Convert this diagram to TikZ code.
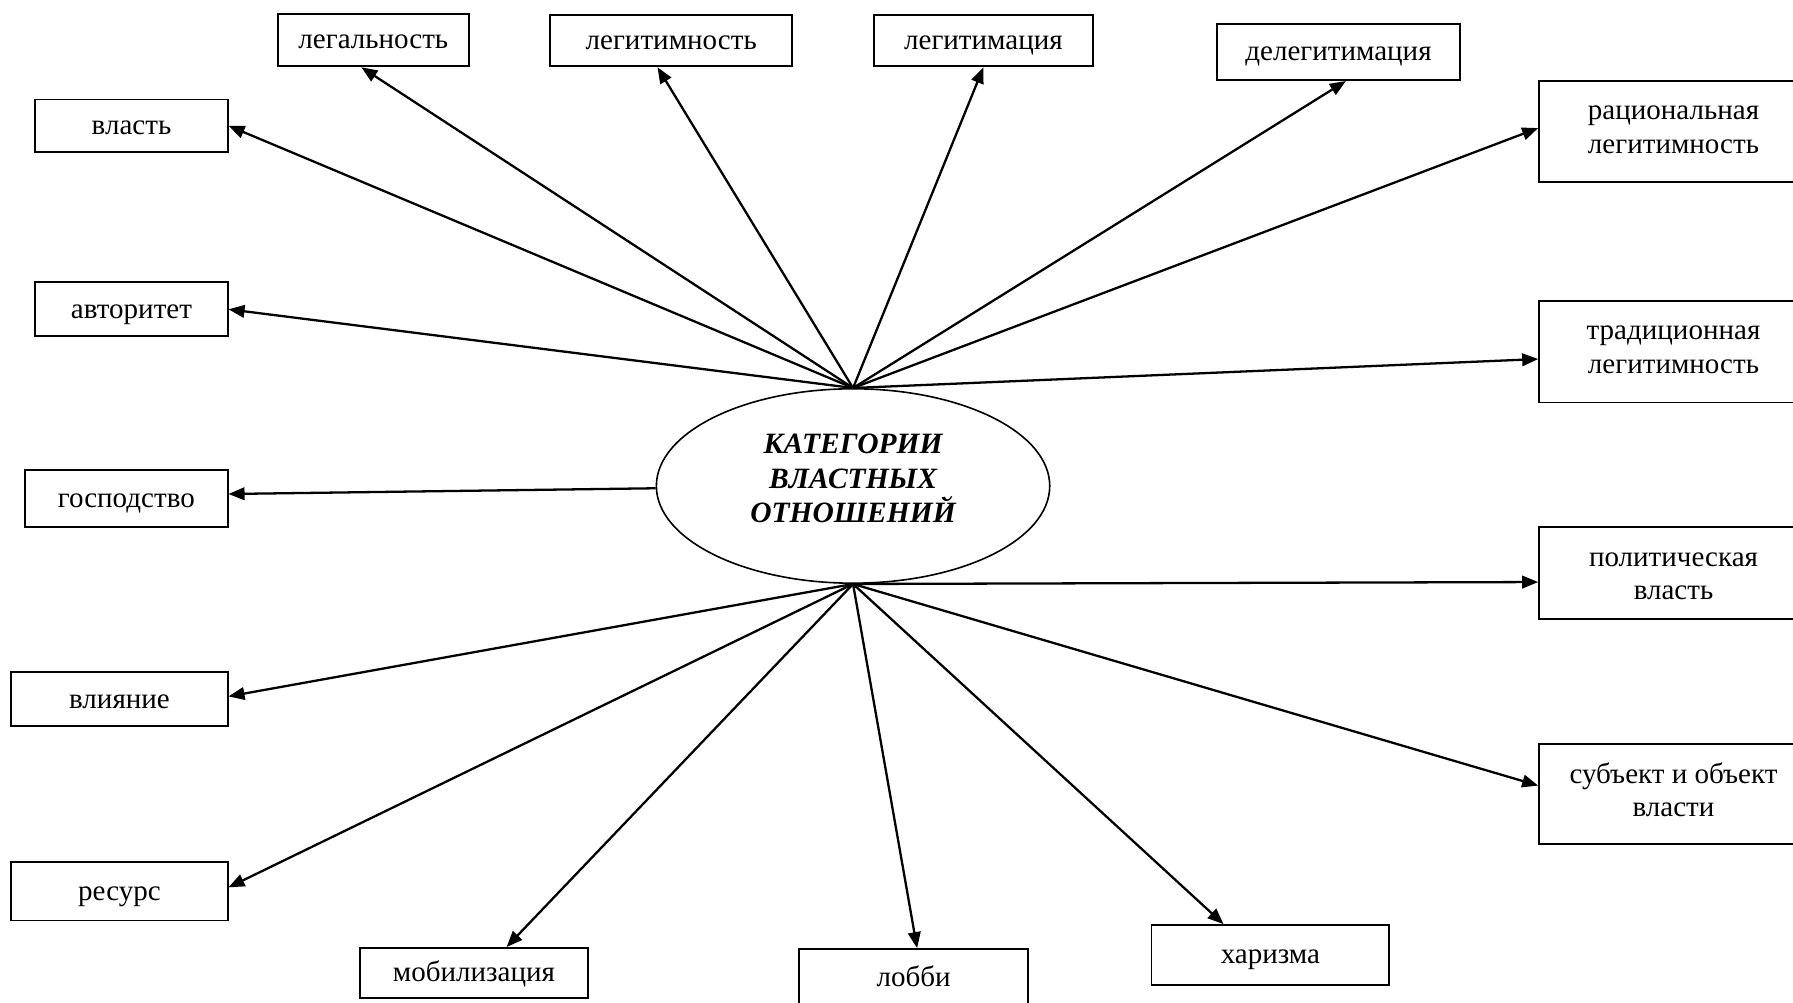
\documentclass[tikz,border=0pt]{standalone}
\usepackage{fontspec}
\setmainfont{Liberation Serif}
\usetikzlibrary{arrows.meta,calc,shapes.geometric}
\begin{document}
\begin{tikzpicture}[x=1pt,y=-1pt,
  box/.style={draw,line width=1.7pt,inner sep=0pt,align=center,font=\fontsize{25.4}{29.5}\selectfont},
  onebox/.style={box,text height=15.5pt,text depth=0pt},
  arr/.style={line width=2pt,-{Triangle[length=14pt,width=11pt]}}]
\useasboundingbox[fill=white] (0,0) rectangle (1568,877);
% centre
\node[draw,ellipse,line width=1.4pt,minimum width=344pt,minimum height=170pt,inner sep=0pt] (ell) at (746,425) {};
\node[align=center,inner sep=0pt,font=\fontsize{25.8}{30}\selectfont\bfseries\itshape] (elltext) at (746,418.5) {КАТЕГОРИИ\\ВЛАСТНЫХ\\ОТНОШЕНИЙ};
% boxes
\node[onebox,minimum width=168pt,minimum height=46pt] (vlast) at (115,110) {власть};
\node[onebox,minimum width=167pt,minimum height=46pt] (legal) at (326.5,35) {легальность};
\node[onebox,minimum width=212pt,minimum height=45pt] (legit) at (587,35.5) {легитимность};
\node[onebox,minimum width=192pt,minimum height=45pt] (legitim) at (860,35.5) {легитимация};
\node[onebox,minimum width=213pt,minimum height=49pt] (deleg) at (1170.5,45.5) {делегитимация};
\node[box,minimum width=235pt,minimum height=88pt] (rac) at (1463.5,115) {рациональная\\легитимность\rule[-3pt]{0pt}{0pt}};
\node[box,minimum width=235pt,minimum height=89pt] (trad) at (1463.5,307.5) {традиционная\\легитимность\rule[-4pt]{0pt}{0pt}};
\node[onebox,minimum width=168pt,minimum height=47pt] (avt) at (115,270.5) {авторитет};
\node[onebox,minimum width=177pt,minimum height=50pt] (gosp) at (110.5,436) {господство};
\node[onebox,minimum width=189pt,minimum height=47pt] (vliyan) at (104.5,611.5) {влияние};
\node[onebox,minimum width=189pt,minimum height=51pt] (resurs) at (104.5,779.5) {ресурс};
\node[onebox,minimum width=199pt,minimum height=44pt] (mobil) at (414.5,851) {мобилизация};
\node[onebox,minimum width=200pt,minimum height=50pt] (lobbi) at (799,855) {лобби};
\node[onebox,minimum width=208pt,minimum height=52pt] (xariz) at (1111,835) {харизма};
\node[box,minimum width=235pt,minimum height=80pt] (polit) at (1463.5,501) {\rule{0pt}{17.7pt}политическая\\власть};
\node[box,minimum width=235pt,minimum height=87pt] (subj) at (1463.5,694.5) {субъект и объект\\власти\rule[-8pt]{0pt}{0pt}};
% connectors from top
\draw[arr] (ell.north) -- (vlast.east);
\draw[arr] (ell.north) -- ($(legal.south)+(-10.5,0)$);
\draw[arr] (ell.north) -- ($(legit.south)+(-12,0)$);
\draw[arr] (ell.north) -- (legitim.south);
\draw[arr] (ell.north) -- ($(deleg.south)+(6.5,0)$);
\draw[arr] (ell.north) -- ($(rac.west)+(0,-3)$);
\draw[arr] (ell.north) -- (avt.east);
\draw[arr] (ell.north) -- ($(trad.west)+(0,6.5)$);
% left
\draw[arr] ($(ell.west)+(0,2)$) -- ($(gosp.east)+(0,-4)$);
% connectors from bottom
\draw[arr] (ell.south) -- ($(polit.west)+(0,8)$);
\draw[arr] (ell.south) -- ($(subj.west)+(0,-7.5)$);
\draw[arr] (ell.south) -- ($(vliyan.east)+(0,-2.5)$);
\draw[arr] (ell.south) -- ($(resurs.east)+(0,-3.5)$);
\draw[arr] (ell.south) -- ($(mobil.north)+(28.5,0)$);
\draw[arr] (ell.south) -- ($(lobbi.north)+(3,0)$);
\draw[arr] (ell.south) -- ($(xariz.north)+(-41,0)$);
\end{tikzpicture}
\end{document}
